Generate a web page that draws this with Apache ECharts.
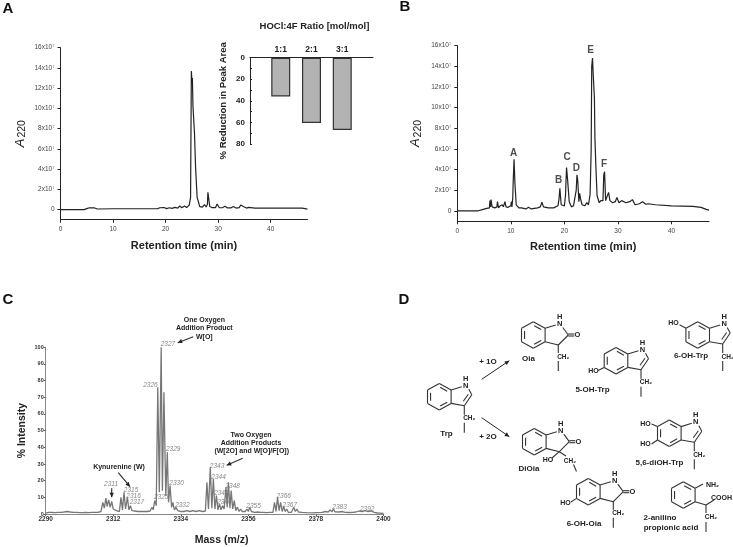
<!DOCTYPE html>
<html>
<head>
<meta charset="utf-8">
<title>Trp oxidation</title>
<script src="https://cdn.jsdelivr.net/npm/echarts@6/dist/echarts.min.js"></script>
<style>
  html, body { margin: 0; padding: 0; background: #fff; }
  #main { width: 733px; height: 547px; }
</style>
</head>
<body>
<div id="main"></div>
<script>
// panel A chromatogram
var timeA = [0, 4.5, 5, 5.5, 6.5, 7, 10, 15.5, 15.7, 15.9, 18.5, 18.9, 19.2, 19.7, 20.2, 20.7, 21.2, 21.8, 22.3, 22.7, 23.1, 23.6, 24, 24.5, 24.75, 24.9, 25, 25.1, 25.2, 25.3, 25.5, 25.7, 26, 26.5, 27, 27.4, 27.7, 27.95, 28.05, 28.25, 28.4, 28.8, 29.5, 29.8, 30.2, 30.8, 31.3, 31.8, 32.4, 32.9, 33.4, 34, 34.3, 34.8, 35.4, 35.8, 37, 40, 44, 46, 47];
var absA = [0, 0, 0.1, 0.18, 0.16, 0.06, 0.08, 0.08, 0.15, 0.08, 0.1, 0.18, 0.1, 0.2, 0.1, 0.18, 0.12, 0.22, 0.15, 0.35, 0.18, 0.35, 0.2, 0.45, 1.2, 13.7, 12.8, 13, 10.3, 10.3, 7.5, 4.2, 1.2, 0.3, 0.25, 0.5, 0.25, 0.5, 1.7, 1.6, 0.3, 0.2, 0.2, 0.55, 0.2, 0.18, 0.32, 0.16, 0.16, 0.3, 0.15, 0.2, 0.45, 0.3, 0.15, 0.22, 0.15, 0.15, 0.15, 0.15, 0.05];

// panel A inset
var ratioLabels = ['', '1:1', '2:1', '3:1', ''];
var reductionValues = [null, 36, 60.5, 67, null];

// panel B chromatogram
var timeB = [0, 3.8, 4.5, 5.5, 6, 6.1, 6.2, 6.3, 6.5, 7, 7.4, 7.5, 7.7, 8, 8.2, 8.4, 8.6, 8.9, 9.1, 9.5, 10, 10.1, 10.2, 10.35, 10.45, 10.6, 10.75, 11, 11.5, 12, 12.3, 12.8, 13.3, 13.8, 15, 15.5, 15.8, 16.1, 17, 18, 18.8, 19, 19.15, 19.4, 19.7, 20, 20.2, 20.4, 20.6, 20.9, 21.3, 21.7, 22, 22.2, 22.35, 22.5, 22.7, 22.85, 23, 23.3, 23.8, 24.2, 24.5, 24.8, 25, 25.1, 25.25, 25.4, 25.6, 25.7, 25.9, 26.1, 26.5, 26.8, 27, 27.2, 27.35, 27.5, 27.7, 28, 28.25, 28.5, 29, 29.5, 29.8, 30.2, 30.7, 31.5, 32.2, 32.7, 33.2, 34, 34.6, 35.2, 35.6, 37, 40, 44, 45.5, 46.5, 47];
var absB = [0, 0, 0.1, 0.25, 0.3, 1, 0.4, 1.1, 0.4, 0.3, 0.4, 0.9, 0.3, 0.5, 0.35, 0.6, 0.4, 0.9, 0.4, 0.35, 0.5, 0.9, 0.4, 1.2, 3, 5, 2.8, 0.6, 0.3, 0.3, 0.35, 0.2, 0.35, 0.2, 0.3, 0.4, 0.85, 0.4, 0.3, 0.3, 0.5, 1.2, 2.2, 0.6, 0.5, 0.5, 1.5, 4.2, 3, 0.9, 0.4, 0.5, 0.6, 2, 3.5, 2.9, 0.9, 1.7, 1.2, 0.6, 0.5, 0.8, 0.6, 1.6, 6, 14, 14.8, 13, 11, 7, 4, 1.5, 0.8, 1, 1, 1, 3.5, 3.8, 1, 0.9, 1.8, 1, 0.8, 0.9, 1.3, 0.8, 1, 0.8, 0.9, 1.1, 0.6, 0.7, 0.9, 0.65, 0.7, 0.6, 0.5, 0.45, 0.35, 0.15, 0.08];
var peakNamesB = ['A', 'B', 'C', 'D', 'E', 'F'];
var peakTimeB = [10.5, 18.9, 20.5, 22.25, 24.9, 27.4];
var peakLabelB = [5.55, 2.97, 5.16, 4.13, 15.6, 4.5];

// panel C mass spectrum
var massC = [2290, 2291, 2292, 2293, 2294, 2295, 2296, 2297, 2298, 2299, 2300, 2301, 2302, 2303, 2304, 2305, 2306, 2307,
  2308, 2308.6, 2309.1, 2309.6, 2310, 2310.5, 2311, 2311.5, 2312, 2312.5, 2313, 2313.5, 2314, 2314.5, 2315, 2315.5, 2316, 2316.6, 2317.1, 2317.6, 2318.1, 2318.6, 2319, 2320, 2321, 2322, 2323, 2324,
  2324.6, 2325, 2325.5, 2326, 2326.5, 2327, 2327.6, 2328, 2328.5, 2329.1, 2329.6, 2330, 2330.5, 2331, 2331.4, 2331.9, 2332.4, 2333, 2333.5, 2334, 2335, 2336, 2337, 2338, 2339, 2340, 2341, 2342,
  2342.5, 2343, 2343.6, 2344.1, 2344.6, 2345.1, 2345.6, 2346.1, 2346.6, 2347.1, 2347.6, 2348.1, 2348.7, 2349.1, 2349.5, 2350, 2350.4, 2350.9, 2351.4, 2351.9, 2352.4, 2353, 2353.5, 2354, 2354.5, 2355, 2355.5, 2356, 2356.4, 2357, 2358, 2359, 2360, 2361, 2362, 2363, 2364,
  2364.5, 2365, 2365.5, 2366, 2366.5, 2367, 2367.5, 2368, 2368.5, 2369, 2369.5, 2370, 2370.8, 2371.3, 2371.8, 2372.3, 2372.8, 2373.5, 2375, 2377, 2378, 2380, 2381, 2382,
  2382.7, 2383.2, 2383.7, 2384.2, 2384.7, 2385.5, 2386.5, 2387.5, 2389, 2390, 2391, 2392, 2393, 2394, 2395, 2396, 2397, 2398, 2399, 2400];
var intensityC = [0.5, 1, 1, 0.8, 1, 1, 1.2, 1.5, 1.2, 1, 1, 0.8, 0.8, 0.9, 0.8, 1, 1, 1,
  1.5, 7, 3.5, 9.5, 4.5, 8.5, 4, 7.5, 3, 4, 2, 2.5, 1.5, 10, 2.5, 13, 3, 10, 2.5, 5, 2, 3, 1.8, 1.5, 1.5, 1.5, 1.5, 1.8,
  4, 2.5, 8, 5, 76, 13, 100, 14, 73, 11, 37, 7, 17, 4, 7, 2.5, 4, 2, 2, 1.5, 1.5, 2, 1.5, 2, 1.5, 2, 1.5, 1.8,
  19, 3, 28, 3.5, 21, 3, 11, 2.5, 6, 2.5, 5, 3, 16, 4, 19, 3.5, 14, 3, 8, 2, 4, 1.5, 3, 1.5, 2, 1.5, 3, 1.5, 4, 1.5, 1, 1.2, 1, 1, 0.8, 1, 1,
  7, 1.5, 10, 2, 7, 1.5, 4.5, 1.5, 3, 1, 2, 1, 4, 1.5, 3, 1.2, 2, 1, 0.8, 0.7, 0.8, 1, 1.5, 1.2,
  2.5, 1.3, 3, 1.3, 2, 1.2, 1.5, 1, 0.9, 1, 1.2, 1.8, 1.5, 2, 1.5, 1.8, 1, 0.6, 0.5, 0.3];
var peakNamesC = ['2311', '2315', '2316', '2317', '2325', '2326', '2327', '2329', '2330', '2332', '2343', '2344', '2345', '2346', '2348', '2355', '2366', '2367', '2383', '2392'];
var peakMassC = [2311.3, 2317.8, 2318.6, 2319.7, 2327.6, 2324.1, 2329.8, 2331.5, 2332.6, 2334.5, 2345.8, 2346.3, 2347.2, 2348.2, 2350.9, 2357.7, 2367.5, 2369.5, 2385.7, 2394.7];
var peakLabelC = [17.8, 14.2, 10.4, 6.8, 9.8, 77.4, 100, 38.8, 18.4, 5.4, 28.8, 22.2, 12.2, 7, 16.6, 4.4, 10.6, 5.4, 4, 3];

// tick labels
var chromTicksY = [0, 2, 4, 6, 8, 10, 12, 14, 16];
var timeTicks = [0, 10, 20, 30, 40];
var reductionTicks = [0, 20, 40, 60, 80];
var massTicks = [2290, 2312, 2334, 2356, 2378, 2400];

var FONT = '"Liberation Sans", Arial, sans-serif';
var INK = '#333';

function pairs(xs, ys) {
  return xs.map(function (x, i) { return [x, ys[i]]; });
}

// ---- drawing helpers for labels, arrows and the structures in panel D
function line(x1, y1, x2, y2, w) {
  return { type: 'line', silent: true, shape: { x1: x1, y1: y1, x2: x2, y2: y2 }, style: { stroke: w === 1 ? '#222' : INK, lineWidth: w || 1.1 } };
}
function txt(x, y, s, size, color) {
  return {
    type: 'text', silent: true, x: x, y: y,
    style: { text: s, fontFamily: FONT, fontWeight: 'bold', fontSize: size || 8, fill: color || '#222', textAlign: 'center', textVerticalAlign: 'middle' }
  };
}
function arrow(x1, y1, x2, y2, w) {
  var a = Math.atan2(y2 - y1, x2 - x1), h = 5, s = 0.45;
  return [
    line(x1, y1, x2, y2, w || 1.2),
    {
      type: 'polygon', silent: true,
      shape: { points: [[x2, y2], [x2 - h * Math.cos(a - s), y2 - h * Math.sin(a - s)], [x2 - h * Math.cos(a + s), y2 - h * Math.sin(a + s)]] },
      style: { fill: '#222' }
    }
  ];
}
function benzene(cx, cy) {
  var p = [[0, -13.3], [11.8, -6.7], [11.8, 6.7], [0, 13.3], [-11.8, 6.7], [-11.8, -6.7]];
  var out = [];
  p.forEach(function (q, i) {
    var n = p[(i + 1) % 6];
    out.push(line(cx + q[0], cy + q[1], cx + n[0], cy + n[1]));
    if (i % 2 === 0) {
      // inner double bond, pulled toward the ring centre
      var k = 0.74, mx = (q[0] + n[0]) / 2, my = (q[1] + n[1]) / 2;
      out.push(line(cx + k * (q[0] * 0.8 + mx * 0.2), cy + k * (q[1] * 0.8 + my * 0.2), cx + k * (n[0] * 0.8 + mx * 0.2), cy + k * (n[1] * 0.8 + my * 0.2)));
    }
  });
  return out;
}
function nitrogen(cx, cy) {
  return [txt(cx + 26.5, cy - 11, 'N', 7.5), txt(cx + 26.5, cy - 18, 'H', 7.5), line(cx + 11.8, cy - 6.7, cx + 22.5, cy - 10)];
}
function chain(cx, cy) {
  return [line(cx + 25, cy + 9, cx + 25, cy + 18), txt(cx + 30, cy + 22, 'CH\u2082', 6.5), line(cx + 25, cy + 26, cx + 25, cy + 36)];
}
function indole(cx, cy) {
  return benzene(cx, cy).concat(nitrogen(cx, cy), [
    line(cx + 29.5, cy - 7.5, cx + 32.5, cy - 2),
    line(cx + 32.5, cy - 2, cx + 25, cy + 9),
    line(cx + 29, cy - 2.5, cx + 24, cy + 4.5),
    line(cx + 25, cy + 9, cx + 11.8, cy + 6.7)
  ], chain(cx, cy));
}
function oxindole(cx, cy) {
  return benzene(cx, cy).concat(nitrogen(cx, cy), [
    line(cx + 29.5, cy - 7.5, cx + 35, cy),
    line(cx + 35, cy, cx + 25, cy + 10),
    line(cx + 25, cy + 10, cx + 11.8, cy + 6.7),
    line(cx + 35, cy - 1, cx + 41, cy - 1),
    line(cx + 35, cy + 1, cx + 41, cy + 1),
    txt(cx + 44, cy, 'O', 7.5)
  ]);
}

var gfx = [
  txt(8, 9, 'A', 15, '#111'), txt(405, 7, 'B', 15, '#111'), txt(8, 300, 'C', 15, '#111'), txt(404, 300, 'D', 15, '#111'),
  // panel C annotations
  txt(204.3, 320, 'One Oxygen', 7), txt(204.3, 328, 'Addition Product', 7), txt(204.3, 336.7, 'W[O]', 7),
  txt(119, 467.3, 'Kynurenine (W)', 7),
  txt(251, 435, 'Two Oxygen', 7), txt(251, 443, 'Addition Products', 7), txt(251.7, 451, '(W[2O] and W[O]/F[O])', 7)
].concat(
  arrow(193.3, 336.7, 177.7, 342.7), arrow(111.7, 488.3, 111.7, 497.3), arrow(118.3, 472.7, 130, 486.7), arrow(242.7, 458.3, 226.7, 465.3),

  // Trp and the two reaction arrows
  indole(439.3, 396.7), txt(446.5, 433.5, 'Trp', 8),
  arrow(481.7, 379.3, 509.3, 360.7, 1), arrow(481.7, 417.7, 509.3, 436.7, 1),
  [txt(488, 361.5, '+ 1O', 8), txt(488, 436.5, '+ 2O', 8)],

  // Oia
  oxindole(533.3, 335), chain(533.3, 335), [txt(528.5, 359, 'Oia', 8)],

  // 5-OH-Trp
  indole(616, 360.7), [line(604.2, 367.4, 598, 370.5), txt(593.5, 371, 'HO', 7), txt(592.5, 390, '5-OH-Trp', 8)],

  // 6-OH-Trp
  indole(697.7, 335), [line(685.9, 328.3, 679.5, 324.7), txt(673.5, 322.7, 'HO', 7), txt(691, 356, '6-OH-Trp', 8)],

  // DiOia
  oxindole(534.3, 441.7), [
    line(559.3, 451.7, 552, 458), txt(548, 460, 'HO', 7),
    line(559.3, 451.7, 566, 456), txt(570, 461, 'CH\u2082', 6.5),
    line(573.5, 464.5, 576.5, 471.5), txt(529, 469, 'DiOia', 8)
  ],

  // 5,6-diOH-Trp
  indole(669.3, 433.3), [
    line(657.5, 426.6, 651.5, 424), txt(645.5, 424, 'HO', 7),
    line(657.5, 440, 651.5, 444), txt(645.5, 444.5, 'HO', 7),
    txt(659.5, 462.7, '5,6-diOH-Trp', 8)
  ],

  // 6-OH-Oia
  oxindole(588.3, 491.7), chain(588.3, 491.7), [line(576.5, 498.4, 571, 502), txt(565.5, 503.5, 'HO', 7), txt(584, 523.3, '6-OH-Oia', 8)],

  // 2-anilino propionic acid
  benzene(683.3, 495), [
    line(695.1, 488.3, 703, 484), txt(712.5, 485, 'NH\u2082', 7),
    line(695.1, 501.7, 706, 505), line(706, 505, 714, 500), txt(721.5, 497.7, 'COOH', 7),
    line(706, 505, 706, 513), txt(711, 517, 'CH\u2082', 6.5), line(706, 522, 706, 532),
    txt(660, 517.7, '2-anilino', 8), txt(671, 527.3, 'propionic acid', 8)
  ]
);

var chromY = function (gridIndex, nameGap) {
  return {
    type: 'value', gridIndex: gridIndex, min: -1, max: 16,
    name: '{a|A}{s|220}', nameLocation: 'middle', nameGap: nameGap, nameRotate: 90,
    nameTextStyle: {
      rich: {
        a: { fontFamily: FONT, fontStyle: 'italic', fontSize: 13, color: '#222', padding: [0, 1, 0, 0] },
        s: { fontFamily: FONT, fontSize: 10.5, color: '#222', verticalAlign: 'bottom', padding: [4, 0, 0, 0] }
      }
    },
    splitLine: { show: false },
    axisLine: { show: true, lineStyle: { color: '#222', width: 1 } },
    axisTick: { show: true, length: 3, customValues: chromTicksY, lineStyle: { color: '#222' } },
    axisLabel: {
      customValues: chromTicksY, fontFamily: FONT, fontSize: 6.5, color: '#444', margin: 6,
      formatter: function (v) { return v === 0 ? '0' : v + 'x10\u2077'; }
    }
  };
};
var chromX = function (gridIndex, nameGap) {
  return {
    type: 'value', gridIndex: gridIndex, min: 0, max: 47,
    name: 'Retention time (min)', nameLocation: 'middle', nameGap: nameGap,
    nameTextStyle: { fontFamily: FONT, fontWeight: 'bold', fontSize: 11, color: '#222' },
    splitLine: { show: false },
    axisLine: { onZero: false, lineStyle: { color: '#222', width: 1 } },
    axisTick: { length: 3, customValues: timeTicks, lineStyle: { color: '#222' } },
    axisLabel: { customValues: timeTicks, fontFamily: FONT, fontSize: 6.5, color: '#444', margin: 6 }
  };
};
var chromLine = function (axisIndex, xs, ys) {
  return {
    type: 'line', xAxisIndex: axisIndex, yAxisIndex: axisIndex, data: pairs(xs, ys),
    showSymbol: false, silent: true, lineStyle: { color: '#222', width: 1.2 }
  };
};

var option = {
  animation: false,
  tooltip: { show: false },
  grid: [
    { left: 60.5, top: 47.7, width: 247, height: 172, outerBoundsMode: 'none' },
    { left: 250, top: 57.7, width: 123, height: 86.3, outerBoundsMode: 'none' },
    { left: 457.3, top: 45.7, width: 251.7, height: 175.6, outerBoundsMode: 'none' },
    { left: 45.7, top: 347.3, width: 337.8, height: 166.7, outerBoundsMode: 'none' }
  ],
  xAxis: [
    chromX(0, 20.5),
    {
      type: 'category', gridIndex: 1, position: 'top', data: ratioLabels, boundaryGap: false,
      name: 'HOCl:4F Ratio [mol/mol]', nameLocation: 'middle', nameGap: 26.7,
      nameTextStyle: { fontFamily: FONT, fontWeight: 'bold', fontSize: 9.5, color: '#222', padding: [0, 0, 0, 6] },
      axisLine: { onZero: false, lineStyle: { color: '#222', width: 1.2 } },
      axisTick: { show: false },
      axisLabel: { interval: 0, fontFamily: FONT, fontWeight: 'bold', fontSize: 8.5, color: '#222', margin: 4 }
    },
    chromX(2, 20),
    {
      type: 'value', gridIndex: 3, min: 2290, max: 2400,
      name: 'Mass (m/z)', nameLocation: 'middle', nameGap: 20.5,
      nameTextStyle: { fontFamily: FONT, fontWeight: 'bold', fontSize: 10.5, color: '#222', padding: [0, 0, 0, 14] },
      splitLine: { show: false },
      axisLine: { onZero: false, lineStyle: { color: '#888', width: 1 } },
      axisTick: { length: 2, customValues: massTicks, lineStyle: { color: '#666' } },
      axisLabel: {
        customValues: massTicks, fontFamily: FONT, fontWeight: 'bold', fontSize: 6.5, color: '#333', margin: 2,
        formatter: function (v) { return String(v); }
      }
    }
  ],
  yAxis: [
    chromY(0, 33),
    {
      type: 'value', gridIndex: 1, inverse: true, min: 0, max: 80, interval: 10,
      name: '% Reduction in Peak Area', nameLocation: 'middle', nameGap: 21.7,
      nameTextStyle: { fontFamily: FONT, fontWeight: 'bold', fontSize: 9.5, color: '#222' },
      splitLine: { show: false },
      axisLine: { show: true, lineStyle: { color: '#222', width: 1 } },
      axisTick: { show: true, length: 2, inside: true, lineStyle: { color: '#222' } },
      axisLabel: { customValues: reductionTicks, fontFamily: FONT, fontWeight: 'bold', fontSize: 8, color: '#222', margin: 5 }
    },
    chromY(2, 34),
    {
      type: 'value', gridIndex: 3, min: 0, max: 100, interval: 10,
      name: '% Intensity', nameLocation: 'middle', nameGap: 18,
      nameTextStyle: { fontFamily: FONT, fontWeight: 'bold', fontSize: 10.5, color: '#222' },
      splitLine: { show: false },
      axisLine: { show: true, lineStyle: { color: '#888', width: 1 } },
      axisTick: { show: true, length: 2, lineStyle: { color: '#666' } },
      axisLabel: { fontFamily: FONT, fontWeight: 'bold', fontSize: 5.5, color: '#333', margin: 2 }
    }
  ],
  series: [
    chromLine(0, timeA, absA),
    {
      type: 'bar', xAxisIndex: 1, yAxisIndex: 1, data: reductionValues, barWidth: 19, silent: true,
      itemStyle: { color: '#b3b3b3', borderColor: '#333', borderWidth: 1.2 }
    },
    chromLine(2, timeB, absB),
    {
      type: 'scatter', xAxisIndex: 2, yAxisIndex: 2, silent: true, symbolSize: 1,
      itemStyle: { color: 'transparent' },
      data: peakTimeB.map(function (t, i) { return { value: [t, peakLabelB[i]], name: peakNamesB[i] }; }),
      label: { show: true, position: 'inside', formatter: '{b}', fontFamily: FONT, fontWeight: 'bold', fontSize: 10, color: '#222' }
    },
    {
      type: 'line', xAxisIndex: 3, yAxisIndex: 3, data: pairs(massC, intensityC),
      showSymbol: false, silent: true, lineStyle: { color: '#777', width: 1.3 }
    },
    {
      type: 'scatter', xAxisIndex: 3, yAxisIndex: 3, silent: true, symbolSize: 1, clip: false,
      itemStyle: { color: 'transparent' },
      data: peakMassC.map(function (m, i) {
        // the 2327 label sits just above the top of the axis
        return { value: [m, peakLabelC[i]], name: peakNamesC[i], label: { offset: [0, peakLabelC[i] === 100 ? -3 : 0] } };
      }),
      label: { show: true, position: 'inside', formatter: '{b}', fontFamily: FONT, fontStyle: 'italic', fontSize: 6.5, color: '#666' }
    }
  ],
  graphic: { elements: gfx }
};

var myChart = echarts.init(document.getElementById('main'), null, { renderer: 'canvas' });
myChart.setOption(option);
</script>
</body>
</html>
